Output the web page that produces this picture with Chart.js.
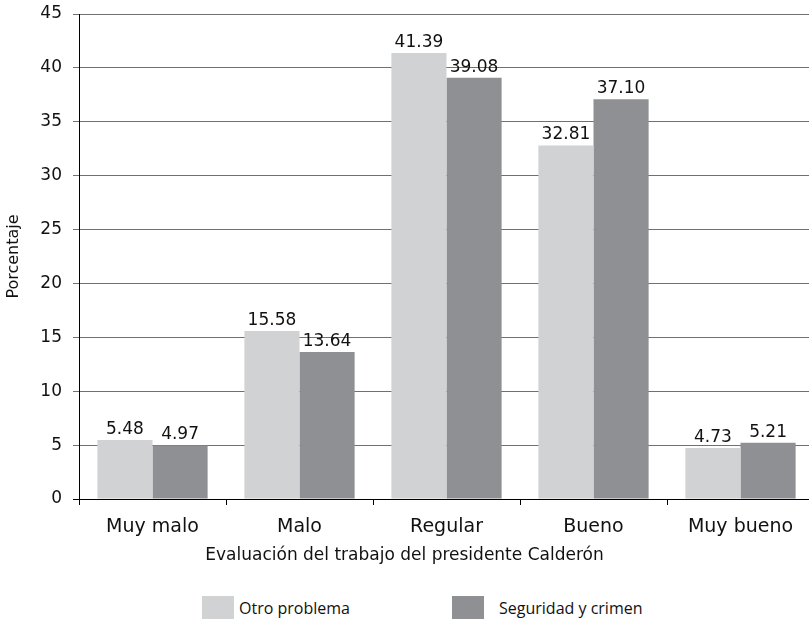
<!DOCTYPE html>
<html>
<head>
<meta charset="utf-8">
<script src="https://cdn.jsdelivr.net/npm/chart.js@4.4.0/dist/chart.umd.min.js"></script>
<style>
    html, body { margin: 0; padding: 0; background: #fff; overflow: hidden; width: 809px; height: 619px; }
    #wrap { position: absolute; left: 0; top: 0; width: 814px; height: 580px; }
    #xtitle { position: absolute; left: 0; top: 544px; width: 809px; text-align: center; font-family: "DejaVu Sans", sans-serif; font-size: 17px; line-height: 20px; color: #111; }
    #legend { position: absolute; left: 202px; top: 596px; font-family: "Open Sans", sans-serif; font-size: 16px; color: #111; }
    .item { position: absolute; top: 0; white-space: nowrap; }
    .box { position: absolute; top: 0; width: 32px; height: 23px; }
    .lbl { position: absolute; top: 1px; line-height: 22px; }
</style>
</head>
<body>
<div id="wrap"><canvas id="chart" width="814" height="580"></canvas></div>
<div id="xtitle"></div>
<div id="legend"></div>
<script>
// Dữ liệu biểu đồ
const categories = ['Muy malo', 'Malo', 'Regular', 'Bueno', 'Muy bueno'];
const otroProblema = [5.48, 15.58, 41.39, 32.81, 4.73];
const seguridadCrimen = [4.97, 13.64, 39.08, 37.10, 5.21];
const seriesNames = ['Otro problema', 'Seguridad y crimen'];
const seriesColors = ['#d1d2d4', '#8f9093'];
const yTicks = [0, 5, 10, 15, 20, 25, 30, 35, 40, 45];
const xTitle = 'Evaluación del trabajo del presidente Calderón';
const yTitle = 'Porcentaje';

const FONT = '"DejaVu Sans", sans-serif';

// Plugin vẽ nhãn giá trị trên đầu cột
const valueLabels = {
    id: 'valueLabels',
    afterDatasetsDraw(chart) {
        const ctx = chart.ctx;
        ctx.save();
        ctx.font = '17px ' + FONT;
        ctx.fillStyle = '#111';
        ctx.textAlign = 'center';
        ctx.textBaseline = 'alphabetic';
        chart.data.datasets.forEach((ds, i) => {
            chart.getDatasetMeta(i).data.forEach((bar, j) => {
                ctx.fillText(ds.data[j].toFixed(2), bar.x, bar.y - 6);
            });
        });
        ctx.restore();
    }
};

const config = {
    type: 'bar',
    data: {
        labels: categories,
        datasets: [{
            label: seriesNames[0],
            data: otroProblema,
            backgroundColor: seriesColors[0],
            categoryPercentage: 0.75,
            barPercentage: 1.0
        }, {
            label: seriesNames[1],
            data: seguridadCrimen,
            backgroundColor: seriesColors[1],
            categoryPercentage: 0.75,
            barPercentage: 1.0
        }]
    },
    options: {
        responsive: false,
        animation: false,
        layout: { padding: { top: 14, right: 0, bottom: 0, left: 0 } },
        plugins: {
            legend: { display: false },
            tooltip: { enabled: false }
        },
        scales: {
            x: {
                grid: {
                    drawOnChartArea: false,
                    drawTicks: true,
                    tickLength: 6,
                    color: '#000'
                },
                border: { color: '#000' },
                ticks: {
                    color: '#111',
                    font: { family: FONT, size: 19 },
                    padding: 11
                },
                afterFit(scale) { scale.height = 81; }
            },
            y: {
                min: 0,
                max: 45,
                afterBuildTicks(scale) { scale.ticks = yTicks.map(v => ({ value: v })); },
                grid: {
                    tickLength: 6,
                    color: ctx => ctx.tick && ctx.tick.value === 0 ? '#000' : '#707070'
                },
                border: { color: '#000' },
                ticks: {
                    color: '#111',
                    font: { family: FONT, size: 17 },
                    padding: 11
                },
                title: {
                    display: true,
                    text: yTitle,
                    color: '#111',
                    font: { family: FONT, size: 16 },
                    padding: { top: 4, bottom: 0 }
                },
                afterFit(scale) {
                    scale.width = 79;
                    scale.paddingTop = 0;
                    scale.paddingBottom = 0;
                }
            }
        }
    },
    plugins: [valueLabels]
};

new Chart(document.getElementById('chart').getContext('2d'), config);

// Tiêu đề trục X (căn giữa theo toàn hình)
document.getElementById('xtitle').textContent = xTitle;

// Chú thích
const legend = document.getElementById('legend');
const offsets = [0, 250];
const textGaps = [37, 47];
seriesNames.forEach((name, i) => {
    const item = document.createElement('div');
    item.className = 'item';
    item.style.left = offsets[i] + 'px';
    item.innerHTML = '<div class="box" style="background:' + seriesColors[i] + '"></div>' +
        '<div class="lbl" style="left:' + textGaps[i] + 'px">' + name + '</div>';
    legend.appendChild(item);
});
</script>
</body>
</html>
